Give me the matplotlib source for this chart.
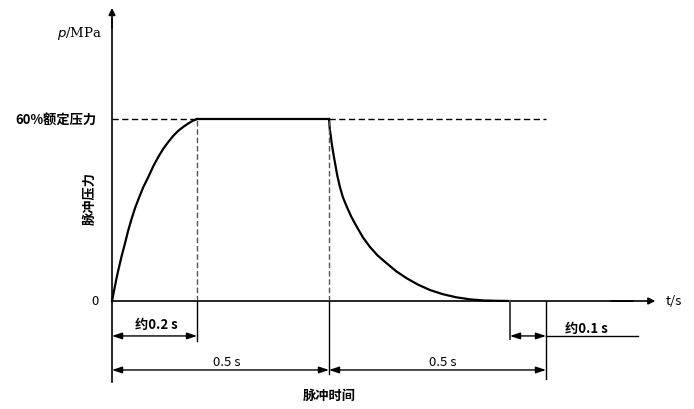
import matplotlib.pyplot as plt

plt.rcParams['font.family'] = ['Noto Sans CJK SC', 'DejaVu Sans']

# key times (s) and pressure level (fraction of 60% rated pressure)
t_rise = 0.196
t_hold = 0.5
t_decay = 0.917
t_end = 1.0
p_top = 1.0

# rise curve
rise_t = [0.0, 0.005, 0.010, 0.0146, 0.022, 0.030, 0.037, 0.045, 0.053, 0.061, 0.072,
          0.084, 0.095, 0.107, 0.118, 0.130, 0.141, 0.153, 0.165, 0.176, 0.186, 0.196]
rise_p = [0.0, 0.06, 0.12, 0.17, 0.245, 0.317, 0.385, 0.45, 0.51, 0.56, 0.625,
          0.683, 0.74, 0.793, 0.836, 0.875, 0.907, 0.936, 0.958, 0.976, 0.99, 1.0]

# decay curve
decay_t = [0.5, 0.502, 0.504, 0.506, 0.510, 0.514, 0.519, 0.525, 0.532, 0.541, 0.552, 0.564,
           0.578, 0.594, 0.612, 0.633, 0.655, 0.679, 0.705, 0.733, 0.763, 0.794, 0.825,
           0.856, 0.887, 0.917]
decay_p = [1.0, 0.94, 0.91, 0.87, 0.81, 0.757, 0.69, 0.628, 0.57, 0.518, 0.46, 0.408,
           0.35, 0.298, 0.25, 0.207, 0.163, 0.125, 0.09, 0.060, 0.037, 0.020, 0.009,
           0.003, 0.001, 0.0]

fig = plt.figure(figsize=(6.94, 4.10), dpi=100)
ax = fig.add_axes([0, 0, 1, 1])
ax.set_xlim(-112 / 434, (694 - 112) / 434)
ax.set_ylim(-(410 - 302) / 182, 302 / 182)
ax.axis('off')

k = 'black'
fs = 9.5

# axes with arrows
ax.plot([0, 0], [-0.445, 1.55], color=k, lw=1.2)
ax.annotate('', xy=(0, 1.61), xytext=(0, 1.5),
            arrowprops=dict(arrowstyle='-|>', color=k, lw=1.2, mutation_scale=10, shrinkA=0, shrinkB=0))
ax.plot([0, 1.2], [0, 0], color=k, lw=1.2)
ax.annotate('', xy=(1.252, 0), xytext=(1.15, 0),
            arrowprops=dict(arrowstyle='-|>', color=k, lw=1.2, mutation_scale=10, shrinkA=0, shrinkB=0))

# pulse
ax.plot(rise_t, rise_p, color=k, lw=1.6, solid_joinstyle='round')
ax.plot([t_rise, t_hold], [p_top, p_top], color=k, lw=1.6)
ax.plot(decay_t, decay_p, color=k, lw=1.6, solid_joinstyle='round')

# dashed guides
ax.plot([0, t_rise], [p_top, p_top], color=k, lw=1, ls=(0, (4.5, 2.5)))
ax.plot([t_hold, t_end], [p_top, p_top], color=k, lw=1, ls=(0, (4.5, 2.5)))
ax.plot([t_rise, t_rise], [0, p_top], color='#555555', lw=1, ls=(0, (4, 2)))
ax.plot([t_hold, t_hold], [0, p_top], color='#555555', lw=1, ls=(0, (4, 2)))

# extension lines
ax.plot([t_rise, t_rise], [0, -0.22], color=k, lw=1)
ax.plot([t_hold, t_hold], [0, -0.40], color=k, lw=1)
ax.plot([t_decay, t_decay], [0, -0.209], color='#444444', lw=1.4)
ax.plot([t_end, t_end], [0, -0.429], color=k, lw=1)

def dim(x0, x1, y):
    ax.annotate('', xy=(x1, y), xytext=(x0, y),
                arrowprops=dict(arrowstyle='<|-|>,head_length=0.6,head_width=0.2', color=k, lw=1,
                                mutation_scale=10, shrinkA=0, shrinkB=0))

dim(0, t_rise, -0.192)
dim(0, t_hold, -0.379)
dim(t_hold, t_end, -0.379)
dim(t_decay, t_end, -0.192)
ax.plot([t_end, 1.212], [-0.192, -0.192], color=k, lw=1)

# labels
ax.text(-0.023, 1.478, '$p$/MPa', ha='right', va='center', fontsize=fs, family='DejaVu Serif')
ax.text(-0.035, p_top, '60%额定压力', ha='right', va='center', fontsize=fs, fontweight='bold')
ax.text(-0.03, 0, '0', ha='right', va='center', fontsize=fs)
ax.text(-0.051, 0.571, '脉冲压力', ha='center', va='center', fontsize=fs, rotation=90, fontweight='bold')
ax.text(t_rise / 2 + 0.005, -0.126, '约0.2 s', ha='center', va='center', fontsize=fs, fontweight='bold')
ax.text(0.265, -0.33, '0.5 s', ha='center', va='center', fontsize=fs)
ax.text(0.763, -0.33, '0.5 s', ha='center', va='center', fontsize=fs)
ax.text(1.094, -0.148, '约0.1 s', ha='center', va='center', fontsize=fs, fontweight='bold')
ax.text(t_hold, -0.516, '脉冲时间', ha='center', va='center', fontsize=fs, fontweight='bold')
ax.text(1.275, 0, 't/s', ha='left', va='center', fontsize=fs)

fig.savefig('out.png', dpi=100)
